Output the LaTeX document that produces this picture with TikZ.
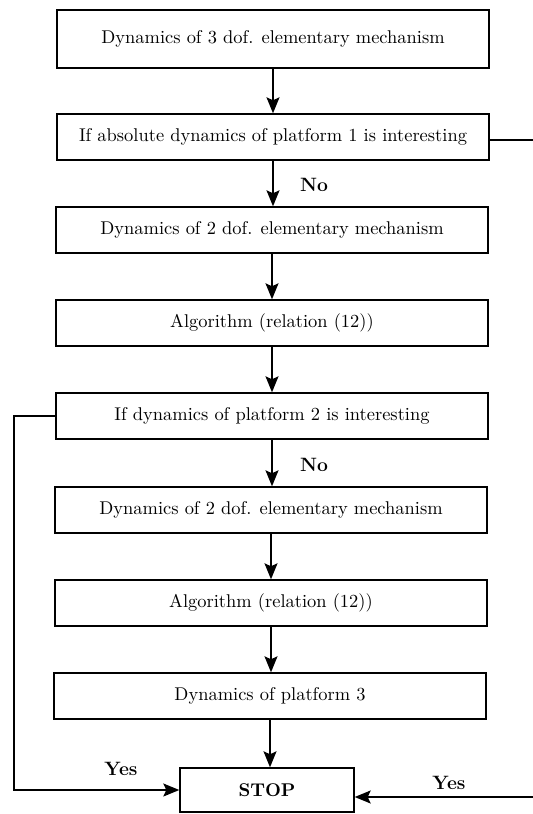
\documentclass[tikz,border=0pt]{standalone}
\usetikzlibrary{arrows.meta}
\begin{document}
\begin{tikzpicture}[x=0.02cm, y=-0.02cm,
    stepbox/.style={draw, thick, minimum width=8.64cm, minimum height=0.92cm, inner sep=0pt, font=\fontsize{10.5}{12}\selectfont},
    flow/.style={thick, -{Stealth[length=3.2mm, width=2.6mm, inset=0.6mm]}},
    tag/.style={font=\fontsize{11}{13}\selectfont\bfseries}]
    \useasboundingbox (0,0) rectangle (533,814);
    \node [stepbox, minimum height=1.16cm] (m3) at (273,39) {Dynamics of 3 dof. elementary mechanism};
    \node [stepbox] (p1) at (273,137) {If absolute dynamics of platform 1 is interesting};
    \node [stepbox] (m2a) at (272,230) {Dynamics of 2 dof. elementary mechanism};
    \node [stepbox] (alga) at (272,323) {Algorithm (relation (12))};
    \node [stepbox] (p2) at (272,416) {If dynamics of platform 2 is interesting};
    \node [stepbox] (m2b) at (271,510) {Dynamics of 2 dof. elementary mechanism};
    \node [stepbox] (algb) at (271,603) {Algorithm (relation (12))};
    \node [stepbox] (p3) at (270,696) {Dynamics of platform 3};
    \node [draw, thick, minimum width=3.48cm, minimum height=0.88cm, font=\fontsize{10.5}{12}\selectfont\bfseries] (stop) at (267,790) {STOP};

    \coordinate (l1) at (14,416); \coordinate (l2) at (14,790);
    \coordinate (r1) at (560,140); \coordinate (r2) at (560,797);

    \draw [flow] (m3) -- (m3 |- p1.north);
    \draw [flow] (p1) -- (p1 |- m2a.north);
    \draw [flow] (m2a) -- (m2a |- alga.north);
    \draw [flow] (alga) -- (alga |- p2.north);
    \draw [flow] (p2) -- (p2 |- m2b.north);
    \draw [flow] (m2b) -- (m2b |- algb.north);
    \draw [flow] (algb) -- (algb |- p3.north);
    \draw [flow] (p3) -- (p3 |- stop.north);
    \draw [flow] (p2.west) -- (l1) -- (l2) -- (stop.west);
    \draw [flow] (p1.east |- r1) -- (r1) -- (r2) -- (stop.east |- r2);

    \node [tag] (no1) at (314,185) {No};
    \node [tag] (no2) at (314,465) {No};
    \node [tag] (yes1) at (121,769) {Yes};
    \node [tag] (yes2) at (449,783) {Yes};
\end{tikzpicture}
\end{document}
